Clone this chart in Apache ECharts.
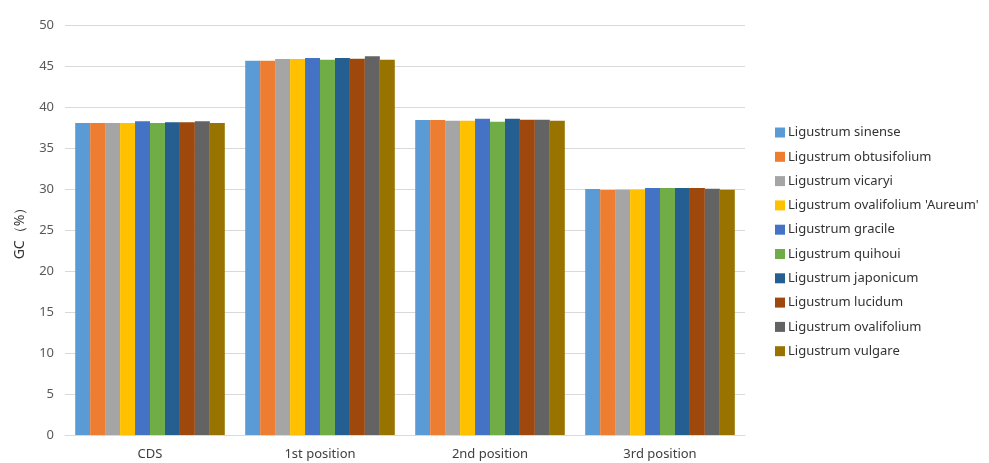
<!DOCTYPE html>
<html>
<head>
<meta charset="utf-8">
<script src="https://cdn.jsdelivr.net/npm/echarts@6/dist/echarts.min.js"></script>
<style>
  html, body { margin: 0; padding: 0; background: #fff; }
  #chart { width: 989px; height: 463px; }
</style>
</head>
<body>
<div id="chart"></div>
<script>
// GC content by codon position for ten Ligustrum species
const categories = ['CDS', '1st position', '2nd position', '3rd position'];

const sinense      = [38.05, 45.65, 38.41, 30.00];
const obtusifolium = [38.05, 45.65, 38.41, 29.88];
const vicaryi      = [38.05, 45.85, 38.33, 29.92];
const aureum       = [38.05, 45.85, 38.33, 29.92];
const gracile      = [38.25, 45.98, 38.58, 30.12];
const quihoui      = [38.05, 45.77, 38.21, 30.12];
const japonicum    = [38.15, 45.98, 38.58, 30.12];
const lucidum      = [38.15, 45.88, 38.45, 30.12];
const ovalifolium  = [38.25, 46.18, 38.45, 30.04];
const vulgare      = [38.05, 45.77, 38.33, 29.92];

const seriesNames = [
  'Ligustrum sinense', 'Ligustrum obtusifolium', 'Ligustrum vicaryi',
  "Ligustrum ovalifolium 'Aureum'", 'Ligustrum gracile', 'Ligustrum quihoui',
  'Ligustrum japonicum', 'Ligustrum lucidum', 'Ligustrum ovalifolium', 'Ligustrum vulgare'
];
const seriesValues = [sinense, obtusifolium, vicaryi, aureum, gracile, quihoui,
  japonicum, lucidum, ovalifolium, vulgare];
const colors = ['#5B9BD5', '#ED7D31', '#A5A5A5', '#FFC000', '#4472C4',
  '#70AD47', '#255E91', '#9E480E', '#636363', '#997300'];

const font = '"Noto Sans", "Open Sans", sans-serif';
const chart = echarts.init(document.getElementById('chart'));

chart.setOption({
  animation: false,
  color: colors,
  grid: { left: 65, right: 244, top: 25, bottom: 28 },
  legend: {
    orient: 'vertical',
    left: 770,
    top: 121,
    itemWidth: 10,
    itemHeight: 10,
    itemGap: 11.3,
    icon: 'rect',
    textStyle: { fontFamily: font, fontSize: 13, color: '#333333', padding: [0, 0, 0, -2] },
    data: seriesNames
  },
  xAxis: {
    type: 'category',
    data: categories,
    axisLine: { lineStyle: { color: '#D9D9D9' } },
    axisTick: { show: false },
    axisLabel: { fontFamily: font, fontSize: 13, color: '#404040', margin: 13 }
  },
  yAxis: {
    type: 'value',
    min: 0,
    max: 50,
    interval: 5,
    name: 'GC（%）',
    nameLocation: 'middle',
    nameGap: 38,
    nameTextStyle: { fontFamily: font, fontSize: 14, color: '#333333' },
    axisLine: { show: false },
    axisTick: { show: false },
    splitLine: { lineStyle: { color: '#D9D9D9' } },
    axisLabel: { fontFamily: font, fontSize: 13, color: '#595959', margin: 11 }
  },
  series: seriesNames.map((name, i) => ({
    name,
    type: 'bar',
    data: seriesValues[i],
    barGap: '0%',
    barCategoryGap: '12%'
  }))
});
</script>
</body>
</html>
